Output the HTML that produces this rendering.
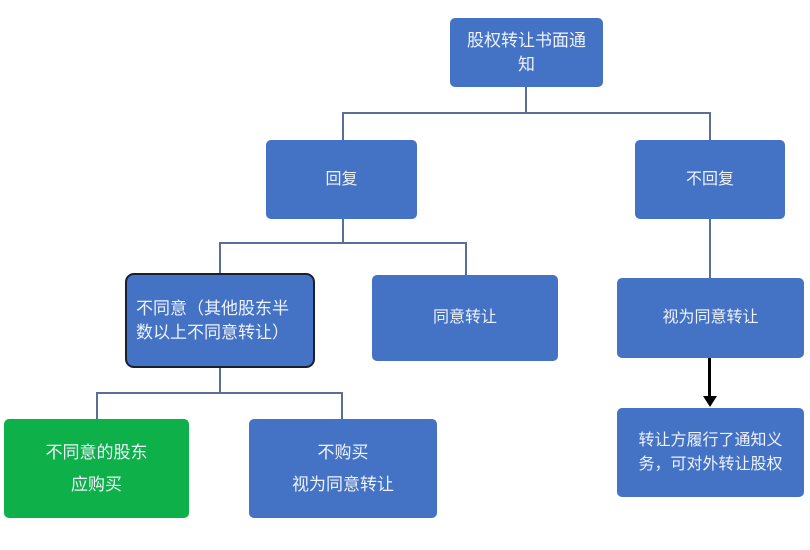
<!DOCTYPE html>
<html><head><meta charset="utf-8"><style>
body{margin:0;width:810px;height:550px;background:#fff;position:relative;overflow:hidden;font-family:"Liberation Sans","Noto Sans CJK SC",sans-serif;}
.b{position:absolute;background:#4472c4;color:#eef2fa;border-radius:5px;display:flex;align-items:center;justify-content:center;text-align:center;font-size:16px;line-height:24px;box-sizing:border-box;}
.l{position:absolute;background:#5b6f96;}
</style></head><body>
<div class="l" style="left:525px;top:87px;width:2px;height:27px"></div>
<div class="l" style="left:342px;top:112px;width:369px;height:2px"></div>
<div class="l" style="left:342px;top:112px;width:2px;height:28px"></div>
<div class="l" style="left:709px;top:112px;width:2px;height:28px"></div>
<div class="l" style="left:342px;top:219px;width:2px;height:25px"></div>
<div class="l" style="left:219px;top:242px;width:248px;height:2px"></div>
<div class="l" style="left:219px;top:242px;width:2px;height:31px"></div>
<div class="l" style="left:465px;top:242px;width:2px;height:33px"></div>
<div class="l" style="left:219px;top:368px;width:2px;height:25px"></div>
<div class="l" style="left:96px;top:392px;width:247px;height:2px"></div>
<div class="l" style="left:96px;top:392px;width:2px;height:27px"></div>
<div class="l" style="left:341px;top:392px;width:2px;height:27px"></div>
<div class="l" style="left:709px;top:219px;width:2px;height:59px"></div>
<div style="position:absolute;left:708px;top:358px;width:3px;height:40px;background:#000"></div>
<div style="position:absolute;left:703px;top:396px;width:0;height:0;border-left:7px solid transparent;border-right:7px solid transparent;border-top:11px solid #000"></div>

<div class="b" style="left:450px;top:18px;width:153px;height:69px;font-size:17px">股权转让书面通<br>知</div>
<div class="b" style="left:266px;top:140px;width:151px;height:79px">回复</div>
<div class="b" style="left:635px;top:140px;width:150px;height:79px">不回复</div>
<div class="b" style="left:125px;top:273px;width:190px;height:95px;border:2px solid #1a1f2e;border-radius:9px;justify-content:flex-start;text-align:left;padding-left:9px;font-size:17px">不同意（其他股东半<br>数以上不同意转让）</div>
<div class="b" style="left:372px;top:275px;width:186px;height:86px">同意转让</div>
<div class="b" style="left:617px;top:278px;width:187px;height:80px">视为同意转让</div>
<div class="b" style="left:4px;top:419px;width:185px;height:99px;background:#0eb04a;line-height:32px;font-size:17px">不同意的股东<br>应购买</div>
<div class="b" style="left:249px;top:419px;width:188px;height:99px;line-height:32px;font-size:17px">不购买<br>视为同意转让</div>
<div class="b" style="left:617px;top:408px;width:187px;height:89px">转让方履行了通知义<br>务，可对外转让股权</div>
</body></html>
